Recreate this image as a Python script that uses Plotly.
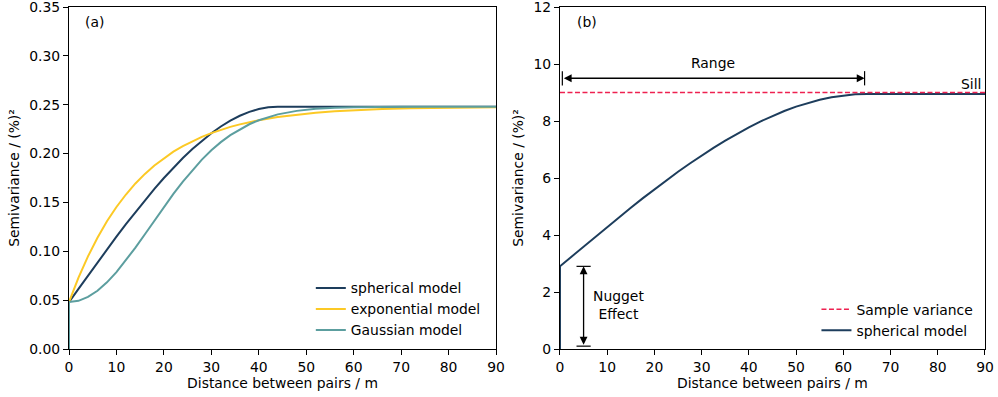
import plotly.graph_objects as go

# ---- (a) theoretical semivariogram models (distance in m, semivariance in (%)^2)
sph_x = [0, 0, 2, 4, 6, 8, 10, 12, 14, 16, 18, 20, 22, 24, 26, 28, 30, 32, 34, 36, 38, 40, 42, 44, 90]
sph_y = [0, 0.048, 0.0616, 0.0752, 0.0887, 0.1019, 0.1150, 0.1278, 0.1402, 0.1523, 0.1639, 0.1750,
         0.1855, 0.1954, 0.2046, 0.2131, 0.2208, 0.2277, 0.2337, 0.2387, 0.2427, 0.2456, 0.2474,
         0.2480, 0.2480]

exp_x = [0, 0, 2, 4, 6, 8, 10, 12, 14, 16, 18, 20, 22, 24, 26, 28, 30, 32, 34, 36, 38, 40,
         44, 48, 52, 56, 60, 66, 72, 80, 90]
exp_y = [0, 0.048, 0.0730, 0.0948, 0.1139, 0.1307, 0.1453, 0.1581, 0.1694, 0.1792, 0.1878, 0.1953,
         0.2019, 0.2076, 0.2127, 0.2171, 0.2209, 0.2243, 0.2273, 0.2299, 0.2321, 0.2341,
         0.2374, 0.2398, 0.2418, 0.2432, 0.2443, 0.2455, 0.2464, 0.2470, 0.2475]

gau_x = [0, 0, 2, 4, 6, 8, 10, 12, 14, 16, 18, 20, 22, 24, 26, 28, 30, 32, 34, 36, 38, 40,
         44, 48, 52, 56, 60, 70, 90]
gau_y = [0, 0.048, 0.0493, 0.0533, 0.0596, 0.0682, 0.0787, 0.0907, 0.1037, 0.1174, 0.1314, 0.1453,
         0.1587, 0.1714, 0.1832, 0.1938, 0.2034, 0.2117, 0.2189, 0.2249, 0.2300, 0.2341,
         0.2401, 0.2437, 0.2458, 0.2469, 0.2475, 0.2480, 0.2480]

# ---- (b) spherical model with its nugget, sill and range
b_x = [0, 0, 2.5, 5, 7.5, 10, 12.5, 15, 17.5, 20, 22.5, 25, 27.5, 30, 32.5, 35, 37.5, 40,
       42.5, 45, 47.5, 50, 52.5, 55, 57.5, 60, 62.5, 65, 90]
b_y = [0, 2.9, 3.249, 3.597, 3.943, 4.285, 4.624, 4.957, 5.284, 5.604, 5.916, 6.218, 6.510,
       6.791, 7.059, 7.314, 7.555, 7.780, 7.988, 8.179, 8.351, 8.504, 8.636, 8.746, 8.834,
       8.897, 8.937, 8.95, 8.95]
var_x = [0, 90]
var_y = [9.0, 9.0]

# tick values
x_ticks = [0, 10, 20, 30, 40, 50, 60, 70, 80, 90]
ya_ticks = [0.00, 0.05, 0.10, 0.15, 0.20, 0.25, 0.30, 0.35]
yb_ticks = [0, 2, 4, 6, 8, 10, 12]

NUGGET = 2.9
NUGGET_BASE = 0.1
NUGGET_AT = 5
RANGE_START = 0.5
RANGE_END = 64.5
RANGE_Y = 9.5

NAVY = "#1d3d5c"
YELLOW = "#fcc925"
TEAL = "#5c9e9f"
RED = "#ee2150"
FONT = "DejaVu Sans"
FS = 13.9

fig = go.Figure()
fig.add_trace(go.Scatter(x=sph_x, y=sph_y, mode="lines", name="spherical model",
                         line=dict(color=NAVY, width=2), xaxis="x", yaxis="y", legend="legend"))
fig.add_trace(go.Scatter(x=exp_x, y=exp_y, mode="lines", name="exponential model",
                         line=dict(color=YELLOW, width=2), xaxis="x", yaxis="y", legend="legend"))
fig.add_trace(go.Scatter(x=gau_x, y=gau_y, mode="lines", name="Gaussian model",
                         line=dict(color=TEAL, width=2), xaxis="x", yaxis="y", legend="legend"))

fig.add_trace(go.Scatter(x=b_x, y=b_y, mode="lines", name="spherical model",
                         line=dict(color=NAVY, width=2), xaxis="x2", yaxis="y2", legend="legend2"))
fig.add_trace(go.Scatter(x=var_x, y=var_y, mode="lines", name="Sample variance",
                         line=dict(color=RED, width=1.5, dash="5px,2.5px"),
                         xaxis="x2", yaxis="y2", legend="legend2"))

axis_common = dict(showline=True, linecolor="black", linewidth=1.1, mirror=True,
                   ticks="outside", ticklen=5, tickwidth=1.1, tickcolor="black",
                   showgrid=False, zeroline=False, tickmode="array",
                   ticklabeloverflow="allow", automargin=False,
                   tickfont=dict(family=FONT, size=FS, color="black"))
title_font = dict(family=FONT, size=FS, color="black")

fig.update_layout(
    width=998, height=397,
    margin=dict(l=69, r=13, t=7, b=48, autoexpand=False),
    paper_bgcolor="white", plot_bgcolor="white",
    font=dict(family=FONT, size=FS, color="black"),
    xaxis=dict(domain=[0, 0.4662], range=[0, 90], tickvals=x_ticks, anchor="y",
               title=dict(text="Distance between pairs / m", standoff=4, font=title_font),
               **axis_common),
    yaxis=dict(domain=[0, 1], range=[0, 0.35], tickvals=ya_ticks, tickformat=".2f", anchor="x",
               title=dict(text="Semivariance / (%)²", standoff=6, font=title_font),
               **axis_common),
    xaxis2=dict(domain=[0.536, 1], range=[0, 90], tickvals=x_ticks, anchor="y2",
                title=dict(text="Distance between pairs / m", standoff=4, font=title_font),
                **axis_common),
    yaxis2=dict(domain=[0, 1], range=[0, 12], tickvals=yb_ticks, anchor="x2",
                title=dict(text="Semivariance / (%)²", standoff=6, font=title_font),
                **axis_common),
    legend=dict(x=0.264, y=0.224, xanchor="left", yanchor="top", bgcolor="rgba(255,255,255,0)",
                font=dict(family=FONT, size=FS), tracegroupgap=0, itemwidth=30),
    legend2=dict(x=0.816, y=0.162, xanchor="left", yanchor="top", bgcolor="rgba(255,255,255,0)",
                 font=dict(family=FONT, size=FS), tracegroupgap=0, itemwidth=30,
                 traceorder="reversed"),
    showlegend=True,
)

# panel labels
fig.add_annotation(text="(a)", xref="x domain", yref="y domain", x=0.033, y=0.956,
                   xanchor="left", yanchor="middle", showarrow=False, font=dict(size=FS))
fig.add_annotation(text="(b)", xref="x2 domain", yref="y2 domain", x=0.035, y=0.956,
                   xanchor="left", yanchor="middle", showarrow=False, font=dict(size=FS))

# range arrow with end bars
fig.add_annotation(x=RANGE_END, y=RANGE_Y, ax=RANGE_START, ay=RANGE_Y,
                   xref="x2", yref="y2", axref="x2", ayref="y2", text="", showarrow=True,
                   arrowside="end+start", arrowhead=2, startarrowhead=2,
                   arrowsize=1.2, startarrowsize=1.2, arrowwidth=1.3, arrowcolor="black")
for xb in (RANGE_START, RANGE_END):
    fig.add_shape(type="line", xref="x2", yref="y2", x0=xb, x1=xb,
                  y0=RANGE_Y - 0.25, y1=RANGE_Y + 0.25, line=dict(color="black", width=1.2))
fig.add_annotation(text="Range", xref="x2", yref="y2", x=(RANGE_START + RANGE_END) / 2, y=10.04,
                   showarrow=False, xanchor="center", yanchor="middle", font=dict(size=FS))
fig.add_annotation(text="Sill", xref="x2", yref="y2", x=89.6, y=9.3,
                   showarrow=False, xanchor="right", yanchor="middle", font=dict(size=FS))

# nugget arrow with end bars
fig.add_annotation(x=NUGGET_AT, y=NUGGET, ax=NUGGET_AT, ay=NUGGET_BASE,
                   xref="x2", yref="y2", axref="x2", ayref="y2", text="", showarrow=True,
                   arrowside="end+start", arrowhead=2, startarrowhead=2,
                   arrowsize=1.2, startarrowsize=1.2, arrowwidth=1.3, arrowcolor="black")
for yb in (NUGGET, NUGGET_BASE):
    fig.add_shape(type="line", xref="x2", yref="y2", x0=NUGGET_AT - 1.5, x1=NUGGET_AT + 1.5,
                  y0=yb, y1=yb, line=dict(color="black", width=1.2))
fig.add_annotation(text="Nugget<br>Effect", xref="x2", yref="y2", x=12.3, y=1.54,
                   showarrow=False, xanchor="center", yanchor="middle", align="center",
                   font=dict(size=FS))

fig.write_html("out.html")
